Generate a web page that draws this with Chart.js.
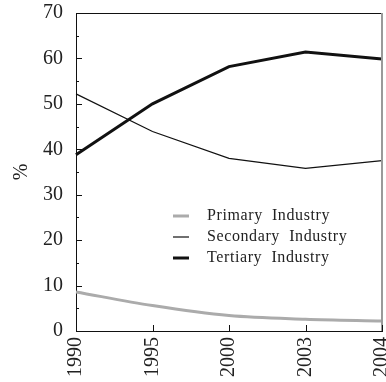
<!DOCTYPE html>
<html>
<head>
<meta charset="utf-8">
<script src="https://cdn.jsdelivr.net/npm/chart.js@4/dist/chart.umd.min.js"></script>
<style>
  html, body { margin: 0; padding: 0; background: #fff; overflow: hidden; width: 386px; height: 382px; }
  #wrap { position: absolute; left: 0; top: -12px; width: 412px; height: 394px; }
</style>
</head>
<body>
<div id="wrap"><canvas id="c"></canvas></div>
<script>
const years = ['1990', '1995', '2000', '2003', '2004'];
const primary = [8.6, 5.6, 3.4, 2.6, 2.2];
const secondary = [52.2, 43.9, 38.0, 35.8, 37.5];
const tertiary = [38.8, 50.0, 58.2, 61.4, 59.9];
const seriesNames = ['Primary Industry', 'Secondary Industry', 'Tertiary Industry'];
const yTitle = '%';

const FONT = "'Liberation Serif', 'Times New Roman', serif";
const SHIFT = 12; // canvas is shifted up by this many pixels

const frameAndTicks = {
  id: 'frameAndTicks',
  afterDatasetsDraw(chart) {
    const ctx = chart.ctx;
    const a = chart.chartArea;
    const xs = chart.scales.x, ys = chart.scales.y;
    ctx.save();
    ctx.strokeStyle = '#111';
    ctx.lineWidth = 1;
    ctx.beginPath();
    ctx.moveTo(a.left, a.top + 0.5);
    ctx.lineTo(a.right, a.top + 0.5);
    ctx.stroke();
    ctx.strokeStyle = '#9a9a9a';
    ctx.lineWidth = 2;
    ctx.beginPath();
    ctx.moveTo(a.right, a.top);
    ctx.lineTo(a.right, a.bottom);
    ctx.stroke();
    ctx.strokeStyle = '#111';
    ctx.lineWidth = 1;
    for (let v = 0; v <= 70; v += 5) {
      const y = Math.round(ys.getPixelForValue(v)) + 0.5;
      const len = (v % 10 === 0) ? 6 : 3;
      ctx.beginPath();
      ctx.moveTo(a.left, y);
      ctx.lineTo(a.left + len, y);
      ctx.stroke();
    }
    for (let i = 0; i < years.length; i++) {
      const x = Math.round(xs.getPixelForValue(i)) + 0.5;
      ctx.beginPath();
      ctx.moveTo(x, a.bottom);
      ctx.lineTo(x, a.bottom - 6);
      ctx.stroke();
    }
    ctx.restore();
  },
  afterDraw(chart) {
    const ctx = chart.ctx;
    ctx.save();
    const lx0 = 173, lx1 = 189, tx = 207;
    const rows = [216 + SHIFT, 237 + SHIFT, 258 + SHIFT];
    ctx.font = '16px ' + FONT;
    ctx.textBaseline = 'middle';
    ctx.textAlign = 'left';
    try { ctx.letterSpacing = '0.6px'; } catch (e) {}
    chart.data.datasets.forEach((ds, i) => {
      const y = rows[i];
      ctx.strokeStyle = ds.borderColor;
      ctx.lineWidth = ds.borderWidth;
      ctx.beginPath();
      ctx.moveTo(lx0, y);
      ctx.lineTo(lx1, y);
      ctx.stroke();
      ctx.fillStyle = '#222';
      ctx.fillText(ds.label.replace(' ', '  '), tx, y);
    });
    ctx.restore();
  }
};

new Chart(document.getElementById('c'), {
  type: 'line',
  data: {
    labels: years,
    datasets: [
      { label: seriesNames[0], data: primary, borderColor: '#ababab', borderWidth: 3, pointRadius: 0, cubicInterpolationMode: 'monotone', fill: false },
      { label: seriesNames[1], data: secondary, borderColor: '#111111', borderWidth: 1.2, pointRadius: 0, tension: 0, fill: false },
      { label: seriesNames[2], data: tertiary, borderColor: '#111111', borderWidth: 3, pointRadius: 0, tension: 0, fill: false }
    ]
  },
  options: {
    responsive: true,
    maintainAspectRatio: false,
    animation: false,
    layout: { padding: { top: 1, right: 0, left: 0, bottom: 0 } },
    plugins: { legend: { display: false }, tooltip: { enabled: false } },
    scales: {
      x: {
        type: 'category',
        offset: false,
        grid: { display: false, drawTicks: false },
        border: { display: true, color: '#111', width: 1 },
        ticks: {
          color: '#222',
          font: { family: FONT, size: 20 },
          maxRotation: 90, minRotation: 90,
          padding: 6,
          autoSkip: false
        },
        afterFit(scale) { scale.height = 51; }
      },
      y: {
        min: 0, max: 70,
        grid: { display: false, drawTicks: false },
        border: { display: true, color: '#111', width: 1 },
        ticks: {
          stepSize: 10,
          color: '#222',
          font: { family: FONT, size: 20 },
          padding: 13
        },
        title: {
          display: true,
          text: yTitle,
          color: '#222',
          font: { family: FONT, size: 20 },
          padding: { top: 10, bottom: 4 }
        },
        afterFit(scale) { scale.width = 76; }
      }
    }
  },
  plugins: [frameAndTicks]
});
</script>
</body>
</html>
